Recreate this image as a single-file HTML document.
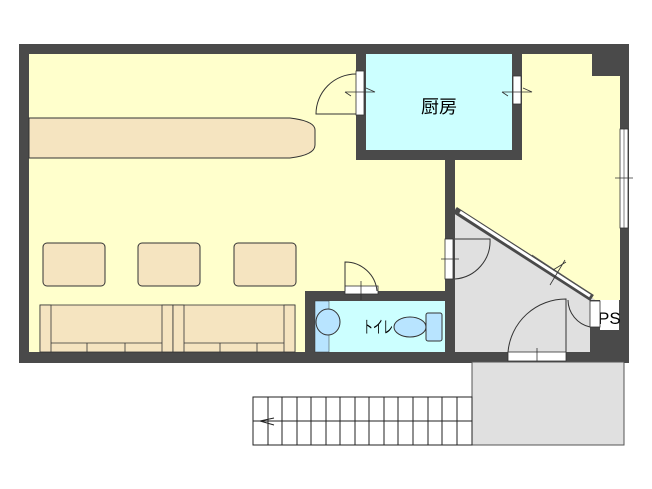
<!DOCTYPE html>
<html><head><meta charset="utf-8"><style>body{margin:0;background:#fff}svg{display:block}</style></head><body>
<svg width="652" height="489" viewBox="0 0 652 489" xmlns="http://www.w3.org/2000/svg" font-family="Liberation Sans, Noto Sans CJK JP, sans-serif">
<rect x="19" y="44" width="610" height="319" fill="#4a4a4a"/>
<rect x="29" y="54" width="327" height="298" fill="#ffffcc"/>
<rect x="356" y="160" width="89" height="131" fill="#ffffcc"/>
<polygon points="522,54 592,54 592,76 620,76 620,300 595,300 455,208 455,160 522,160" fill="#ffffcc"/>
<rect x="366" y="54" width="146" height="96" fill="#ccffff"/>
<polygon points="455,208 595,300 590,300 590,352 455,352" fill="#e0e0e0"/>
<rect x="590" y="330" width="30" height="22" fill="#4a4a4a"/>
<rect x="600" y="300" width="19" height="30" fill="#fff"/>
<text x="598" y="324" font-size="17">PS</text>
<line x1="455" y1="210" x2="592" y2="298" stroke="#4a4a4a" stroke-width="7"/>
<line x1="460" y1="212" x2="590" y2="296" stroke="#fff" stroke-width="3"/>
<line x1="532" y1="255" x2="585" y2="290" stroke="#555" stroke-width="0.8"/>
<path d="M550,285 L565,260 M553,270 L566,262" stroke="#333" fill="none" stroke-width="0.8"/>
<rect x="305" y="291" width="150" height="10" fill="#4a4a4a"/>
<rect x="305" y="291" width="10" height="61" fill="#4a4a4a"/>
<rect x="315" y="301" width="130" height="51" fill="#ccffff"/>
<rect x="315" y="301" width="14" height="51" fill="#b8e4ff" stroke="#333" stroke-width="0.5"/>
<ellipse cx="328" cy="322" rx="12" ry="13" fill="#b8e4ff" stroke="#333"/>
<ellipse cx="410" cy="327" rx="16" ry="10" fill="#b8e4ff" stroke="#333"/>
<rect x="426" y="313" width="16" height="28" rx="2" fill="#b8e4ff" stroke="#333"/>
<text x="363" y="333" font-size="17" textLength="30" lengthAdjust="spacingAndGlyphs">トイレ</text>
<rect x="356" y="54" width="10" height="106" fill="#4a4a4a"/>
<rect x="512" y="54" width="10" height="106" fill="#4a4a4a"/>
<rect x="356" y="150" width="166" height="10" fill="#4a4a4a"/>
<rect x="445" y="160" width="10" height="192" fill="#4a4a4a"/>
<text x="439" y="113" font-size="18" text-anchor="middle">厨房</text>
<rect x="356" y="71" width="8" height="44" fill="#fff" stroke="#333" stroke-width="0.8"/>
<path d="M356,74 A40,40 0 0 0 316,114 L356,114" fill="none" stroke="#333"/>
<path d="M345,92 L375,92 L366,88 M345,92 L351,96" fill="none" stroke="#333" stroke-width="0.8"/>
<rect x="513" y="76" width="8" height="28" fill="#fff" stroke="#333" stroke-width="0.8"/>
<path d="M502,92 L532,92 L523,88 M502,92 L508,96" fill="none" stroke="#333" stroke-width="0.8"/>
<rect x="445" y="239" width="8" height="40" fill="#fff" stroke="#333" stroke-width="0.8"/>
<path d="M455,239 L490,239 A38,38 0 0 1 455,279" fill="none" stroke="#333"/>
<path d="M441,259 L459,259" stroke="#333" stroke-width="0.8"/>
<rect x="345" y="286" width="33" height="8" fill="#fff" stroke="#333" stroke-width="0.8"/>
<path d="M345,291 L345,262 A32,32 0 0 1 377,291" fill="none" stroke="#333"/>
<path d="M361,281 L361,300" stroke="#333" stroke-width="0.8"/>
<rect x="508" y="352" width="58" height="9" fill="#fff" stroke="#333" stroke-width="0.8"/>
<path d="M508,352 A58,58 0 0 1 566,299 L566,352" fill="none" stroke="#333"/>
<path d="M537,348 L537,366" stroke="#333" stroke-width="0.8"/>
<rect x="590" y="301" width="10" height="26" fill="#fff" stroke="#333" stroke-width="0.8"/>
<path d="M590,327 A28,28 0 0 1 568,300" fill="none" stroke="#333"/>
<rect x="620" y="129" width="8" height="99" fill="#fff" stroke="#333" stroke-width="0.8"/>
<line x1="624" y1="129" x2="624" y2="228" stroke="#333" stroke-width="0.6"/>
<line x1="615" y1="178" x2="633" y2="178" stroke="#333" stroke-width="0.8"/>
<path d="M29,118 L290,118 Q315,121 315,130 L315,145 Q315,155 290,158 L29,158 Z" fill="#f5e4c0" stroke="#333"/>
<rect x="43" y="243" width="62" height="43" rx="4" fill="#f5e4c0" stroke="#333"/>
<rect x="138" y="243" width="62" height="43" rx="4" fill="#f5e4c0" stroke="#333"/>
<rect x="234" y="243" width="62" height="43" rx="4" fill="#f5e4c0" stroke="#333"/>
<g fill="#f5e4c0" stroke="#333" stroke-width="0.8">
<rect x="40" y="305" width="133" height="47"/>
<rect x="40" y="305" width="11" height="47"/><rect x="162" y="305" width="11" height="47"/>
<rect x="173" y="305" width="122" height="47"/>
<rect x="173" y="305" width="11" height="47"/><rect x="284" y="305" width="11" height="47"/>
<line x1="51" y1="343" x2="162" y2="343"/><line x1="184" y1="343" x2="284" y2="343"/>
<line x1="87" y1="343" x2="87" y2="352"/><line x1="125" y1="343" x2="125" y2="352"/>
<line x1="220" y1="343" x2="220" y2="352"/><line x1="257" y1="343" x2="257" y2="352"/>
</g>
<rect x="472" y="362" width="152" height="83" fill="#e0e0e0" stroke="#555"/>
<g stroke="#222" stroke-width="1" fill="none">
<rect x="253" y="397" width="219" height="48" fill="#fff"/>
<line x1="253" y1="421" x2="472" y2="421"/>
<path d="M268,397V445M282,397V445M297,397V445M311,397V445M326,397V445M340,397V445M355,397V445M369,397V445M384,397V445M398,397V445M413,397V445M428,397V445M442,397V445M457,397V445"/>
<path d="M274,418 L260,421 L274,425"/>
</g>
</svg>
</body></html>
